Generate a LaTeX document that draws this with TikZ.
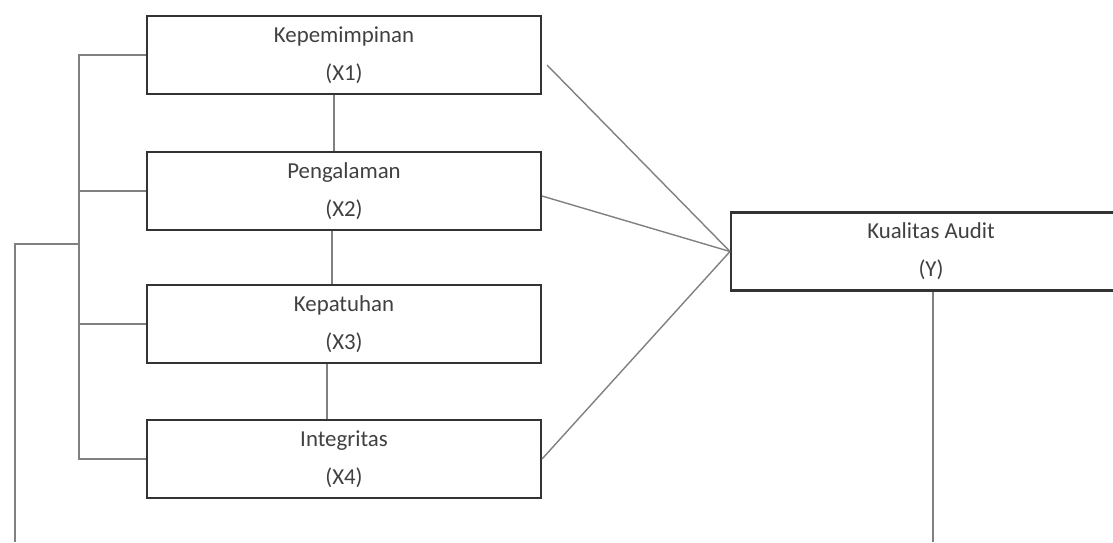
\documentclass[tikz,border=0pt]{standalone}
\usepackage{fontspec}
\setmainfont{Carlito}
\begin{document}
\begin{tikzpicture}[x=0.02cm,y=-0.02cm,
  box/.style={draw=black!80,line width=1.2pt,rectangle,minimum width=7.88cm,minimum height=1.56cm,
    align=center,text=black!75,font=\fontsize{13}{15.6}\selectfont},
  link/.style={draw=black!50,line width=0.8pt}]
\useasboundingbox (0,0) rectangle (1113,542);
\clip (0,0) rectangle (1113,542);
\node [box] (x1) at (344,55) {Kepemimpinan\\[6pt](X1)};
\node [box] (x2) at (344,191) {Pengalaman\\[6pt](X2)};
\node [box] (x3) at (344,324) {Kepatuhan\\[6pt](X3)};
\node [box] (x4) at (344,459) {Integritas\\[6pt](X4)};
\node [box,minimum width=8cm] (y) at (931,251.5) {Kualitas Audit\\[6pt](Y)};
\coordinate (brk) at (79,244);
\coordinate (ocorner) at (15,244);
\coordinate (obottom) at (15,542);
\coordinate (ydrop) at (933,542);
% bracket on the left
\draw [link] (x1.west) -- (x1.west -| brk) -- (x4.west -| brk) -- (x4.west);
\foreach \n in {x2,x3} \draw [link] (\n.west) -- (\n.west -| brk);
\draw [link] (brk) -- (ocorner) -- (obottom);
\draw [link] (ydrop |- y.south) -- (ydrop);
% boxes stacked
\draw [link] ([xshift=-0.2cm]x1.south) -- ([xshift=-0.2cm]x2.north);
\draw [link] ([xshift=-0.24cm]x2.south) -- ([xshift=-0.24cm]x3.north);
\draw [link] ([xshift=-0.34cm]x3.south) -- ([xshift=-0.34cm]x4.north);
% into Y
\draw [link] ([xshift=0.1cm,yshift=-0.2cm]x1.east) -- (y.west);
\draw [link] ([yshift=-0.1cm]x2.east) -- (y.west);
\draw [link] (x4.east) -- (y.west);
\end{tikzpicture}
\end{document}
